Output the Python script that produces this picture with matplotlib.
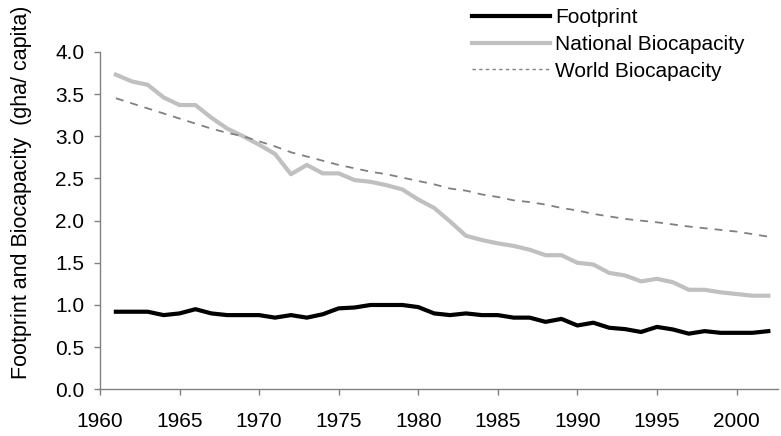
import numpy as np
import matplotlib
matplotlib.use('Agg')
import matplotlib.pyplot as plt
from matplotlib.lines import Line2D

plt.rcParams['font.family'] = ['Liberation Sans', 'DejaVu Sans']

years = list(range(1961, 2003))
footprint = [0.92, 0.92, 0.92, 0.88, 0.90, 0.95, 0.90, 0.88, 0.88, 0.88,
             0.85, 0.88, 0.85, 0.89, 0.96, 0.97, 1.00, 1.00, 1.00, 0.975,
             0.90, 0.88, 0.90, 0.88, 0.88, 0.85, 0.85, 0.80, 0.835, 0.757,
             0.79, 0.73, 0.714, 0.68, 0.74, 0.71, 0.66, 0.69, 0.67, 0.67,
             0.67, 0.69]
national_bio = [3.73, 3.65, 3.61, 3.46, 3.37, 3.37, 3.22, 3.09, 3.00, 2.90,
                2.79, 2.55, 2.66, 2.56, 2.56, 2.48, 2.46, 2.42, 2.37, 2.25,
                2.15, 1.99, 1.82, 1.77, 1.73, 1.70, 1.655, 1.59, 1.59, 1.50,
                1.48, 1.38, 1.35, 1.28, 1.31, 1.27, 1.18, 1.18, 1.15, 1.13,
                1.11, 1.11]
world_bio = [3.45, 3.39, 3.33, 3.27, 3.21, 3.15, 3.09, 3.04, 3.00, 2.94,
             2.88, 2.81, 2.76, 2.71, 2.66, 2.62, 2.58, 2.55, 2.51, 2.47,
             2.43, 2.38, 2.355, 2.31, 2.28, 2.24, 2.22, 2.19, 2.15, 2.12,
             2.08, 2.05, 2.02, 2.00, 1.98, 1.955, 1.93, 1.91, 1.89, 1.87,
             1.84, 1.81]
labels = ['Footprint', 'National Biocapacity', 'World Biocapacity']

fig = plt.figure(figsize=(7.81, 4.36), dpi=100)
ax = fig.add_axes([0.128, 0.107, 0.868, 0.774])

ax.plot(years, footprint, color='black', lw=3.0, solid_joinstyle='round')
ax.plot(years, national_bio, color='#c0c0c0', lw=3.0, solid_joinstyle='round')
ax.plot(years, world_bio, color='#808080', lw=1.3, dashes=(4.4, 3.9))

ax.set_xlim(1960, 2002.6)
ax.set_ylim(0, 4)
ax.set_xticks(range(1960, 2001, 5))
ax.set_yticks(np.arange(0, 4.01, 0.5))
ax.set_yticklabels(['%.1f' % v for v in np.arange(0, 4.01, 0.5)])

for s in ['top', 'right']:
    ax.spines[s].set_visible(False)
for s in ['left', 'bottom']:
    ax.spines[s].set_color('#808080')
    ax.spines[s].set_linewidth(1.0)
ax.tick_params(axis='both', direction='out', length=4.3, width=1.0,
               color='#808080', labelsize=15, labelcolor='black')
ax.tick_params(axis='x', pad=12)
ax.tick_params(axis='y', pad=7)

ax.set_ylabel('Footprint and Biocapacity  (gha/ capita)', fontsize=15.5)
ax.yaxis.set_label_coords(-0.100, 0.585)

handles = [Line2D([], [], color='black', lw=3.0),
           Line2D([], [], color='#c0c0c0', lw=3.0),
           Line2D([], [], color='#808080', lw=1.0, dashes=(2.4, 2.4))]
fig.legend(handles, labels, loc='upper left', bbox_to_anchor=(0.604, 0.981),
           frameon=False, fontsize=15, handlelength=3.75, handletextpad=0.25,
           labelspacing=0.37, borderpad=0, borderaxespad=0)

plt.savefig('out.png', dpi=100)
